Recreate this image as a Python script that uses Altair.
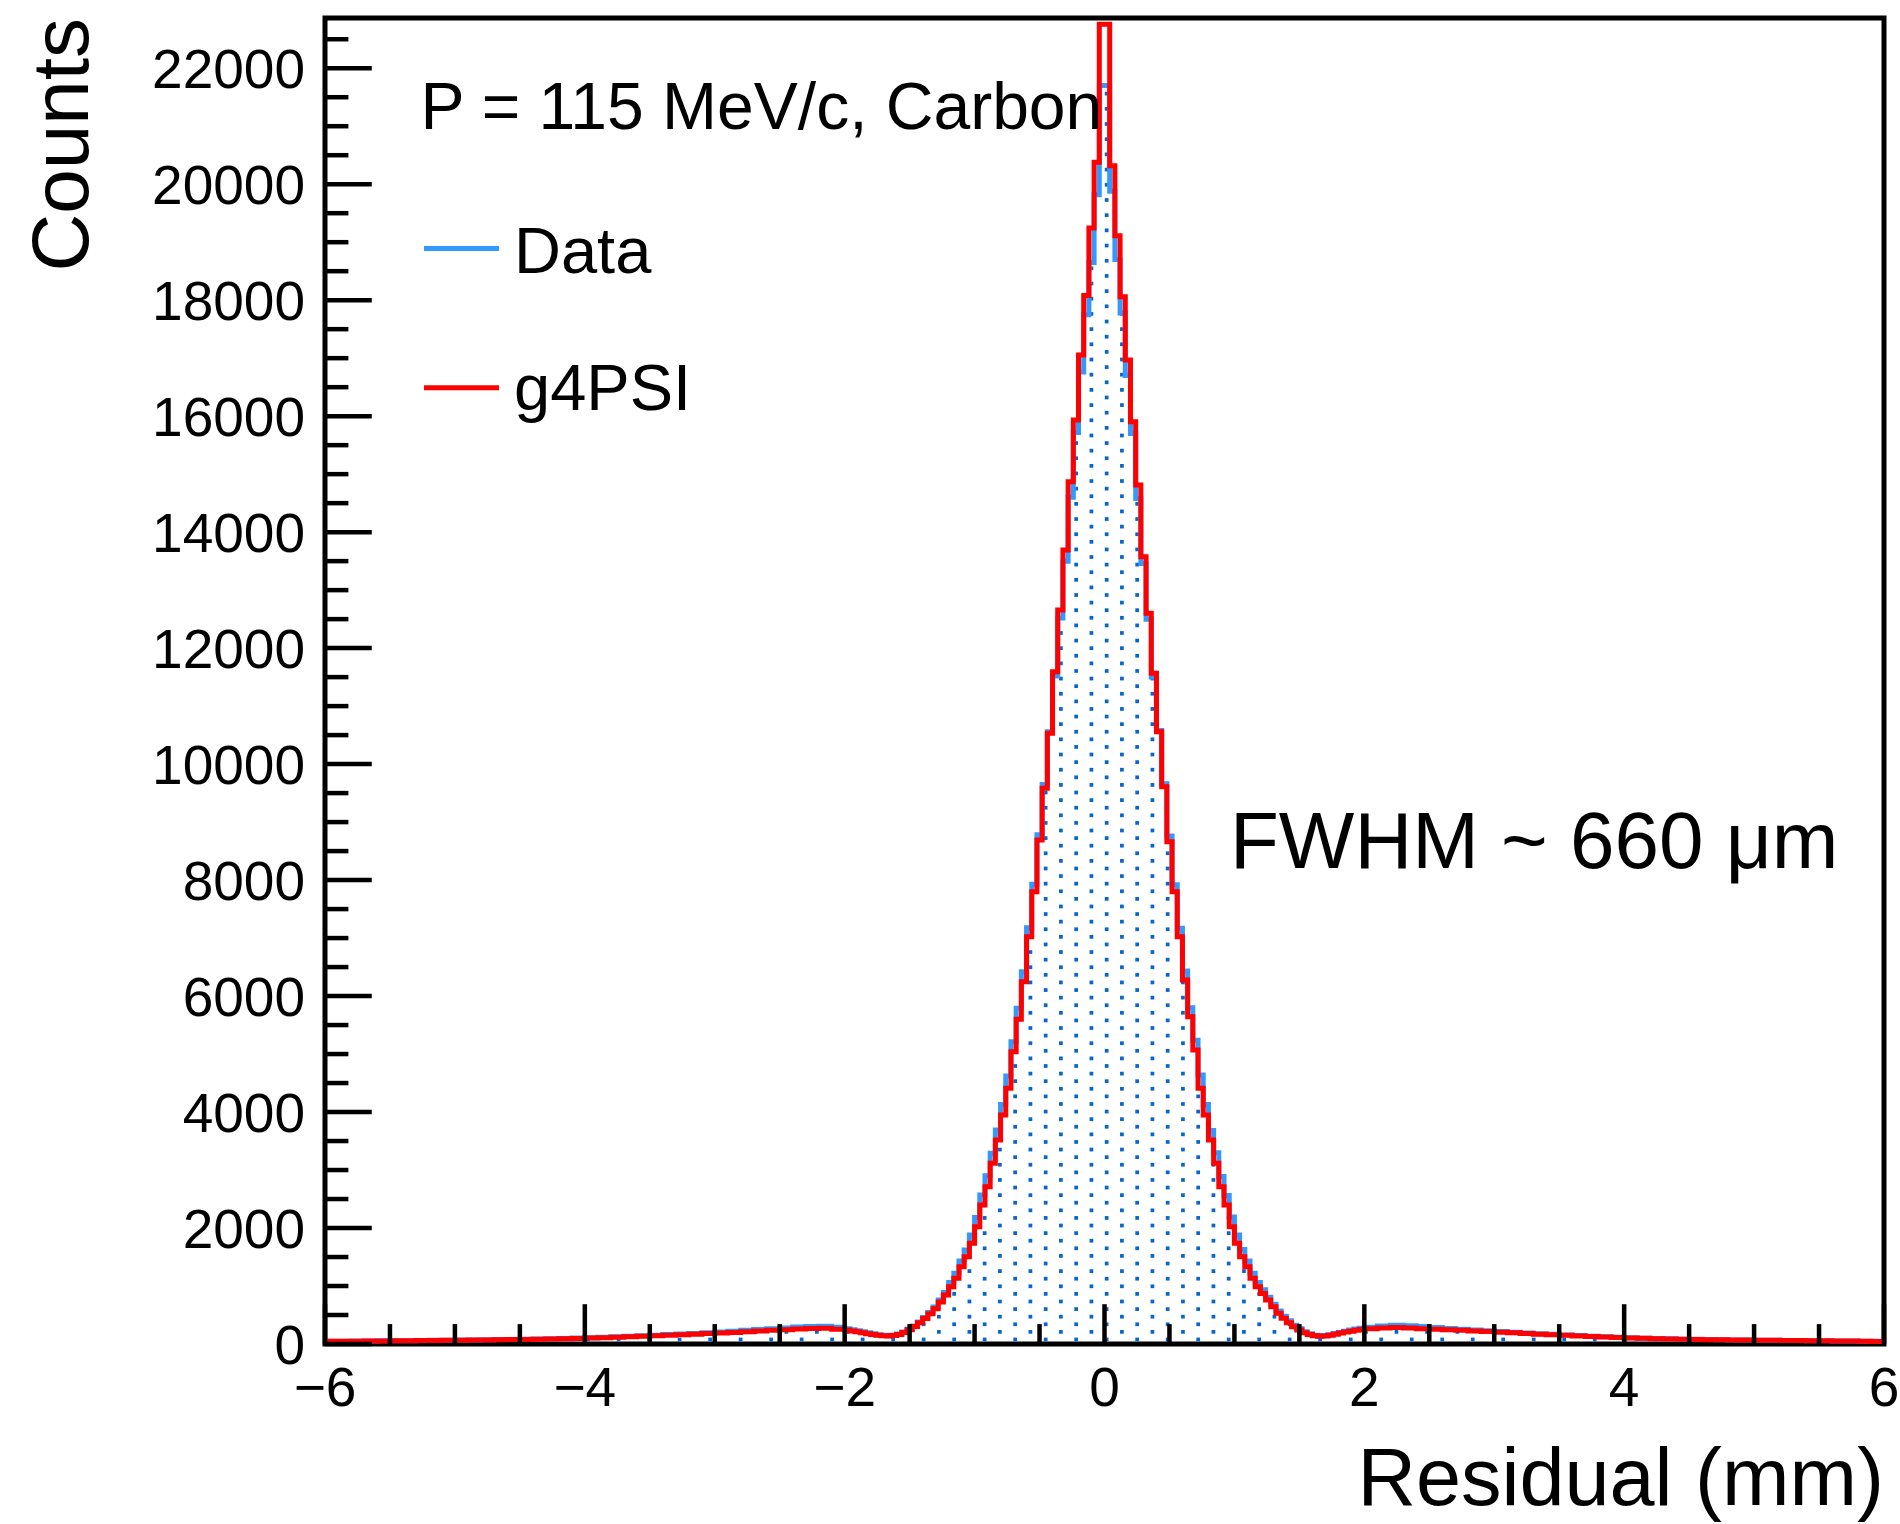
import numpy as np
import pandas as pd
import altair as alt

# ---------------- data ----------------
# bin edges: 0.1 mm bins in the tails, 0.04 mm bins in the core [-2, 2]
EDGES = np.concatenate([
    np.linspace(-6, -2, 41),
    np.linspace(-2, 2, 101)[1:],
    np.linspace(2, 6, 41)[1:],
]).round(4)

# g4PSI (red)
g4psi_tail_left = [46, 47, 49, 51, 53, 55, 57, 59, 62, 64,
                   66, 69, 71, 74, 76, 79, 83, 87, 92, 97,
                   102, 109, 117, 125, 134, 143, 152, 161, 170, 179,
                   189, 200, 212, 224, 236, 247, 257, 266, 270, 256]
g4psi_core_left = [240, 226, 210, 194, 178, 162, 150, 142, 137, 145,
                   165, 200, 245, 300, 365, 440, 520, 610, 725, 845,
                   988, 1133, 1333, 1506, 1736, 2023, 2397, 2713, 3116, 3518,
                   3949, 4409, 5040, 5600, 6248, 7024, 7800, 8691, 9582, 10531,
                   11594, 12657, 13692, 14870, 15934, 17055, 18080, 19245, 20378, 22760]
g4psi_core_right = [22760, 20320, 19111, 18060, 16969, 15905, 14813, 13577, 12600, 11566,
                    10559, 9611, 8662, 7800, 7024, 6277, 5644, 5070, 4409, 3949,
                    3518, 3116, 2713, 2397, 2023, 1736, 1506, 1333, 1133, 988,
                    873, 758, 644, 529, 443, 368, 299, 241, 195, 165,
                    142, 133, 140, 152, 170, 188, 205, 222, 236, 248]
g4psi_tail_right = [262, 278, 283, 276, 265, 254, 245, 235, 225, 214,
                    203, 192, 181, 170, 159, 149, 139, 129, 120, 111,
                    104, 98, 92, 86, 81, 77, 75, 72, 70, 67,
                    65, 63, 61, 59, 56, 54, 52, 50, 47, 45]

# Data (blue)
data_tail_left = [47, 48, 50, 52, 54, 56, 58, 61, 63, 66,
                  68, 70, 73, 76, 79, 82, 86, 91, 96, 102,
                  108, 116, 124, 133, 142, 152, 162, 172, 183, 194,
                  206, 220, 235, 250, 264, 278, 292, 303, 308, 290]
data_core_left = [262, 246, 228, 210, 192, 175, 160, 150, 144, 150,
                  172, 208, 255, 312, 380, 458, 545, 640, 760, 890,
                  1060, 1220, 1430, 1620, 1880, 2180, 2570, 2900, 3290, 3690,
                  4130, 4620, 5210, 5790, 6420, 7180, 7930, 8780, 9650, 10560,
                  11520, 12520, 13500, 14600, 15720, 16760, 17750, 18650, 19820, 21700]
data_core_right = [21700, 19880, 18700, 17780, 16700, 15700, 14580, 13460, 12500, 11500,
                   10580, 9660, 8760, 7920, 7170, 6430, 5800, 5240, 4640, 4130,
                   3680, 3300, 2890, 2560, 2190, 1880, 1630, 1430, 1220, 1060,
                   935, 805, 685, 570, 480, 400, 325, 262, 210, 176,
                   150, 140, 145, 160, 180, 200, 220, 240, 258, 272]
data_tail_right = [290, 312, 322, 315, 300, 285, 268, 255, 242, 228,
                   214, 202, 190, 178, 166, 155, 145, 135, 125, 116,
                   108, 101, 95, 89, 84, 80, 77, 74, 71, 69,
                   66, 64, 62, 60, 57, 55, 53, 51, 48, 46]

G4PSI = g4psi_tail_left + g4psi_core_left + g4psi_core_right + g4psi_tail_right
DATA = data_tail_left + data_core_left + data_core_right + data_tail_right

SERIES = ["Data", "g4PSI"]
X_MAJOR = [-6, -4, -2, 0, 2, 4, 6]
X_LABELS = ["\u22126", "\u22124", "\u22122", "0", "2", "4", "6"]
X_MINOR = [-5.5, -5, -4.5, -3.5, -3, -2.5, -1.5, -1, -0.5,
           0.5, 1, 1.5, 2.5, 3, 3.5, 4.5, 5, 5.5]
Y_MAJOR = [0, 2000, 4000, 6000, 8000, 10000, 12000, 14000, 16000, 18000, 20000, 22000]
Y_LABELS = ["0", "2000", "4000", "6000", "8000", "10000", "12000",
            "14000", "16000", "18000", "20000", "22000"]
Y_MINOR = [v for v in range(500, 22501, 500) if v % 2000 != 0]
LABEL_TEXT = "P = 115 MeV/c, Carbon"
FWHM_TEXT = "FWHM ~ 660 μm"
X_TITLE = "Residual (mm)"
Y_TITLE = "Counts"

# ---------------- layout / style ----------------
W, H = 1559, 1326
XMIN, XMAX = -6, 6
YMAX = 22866
FONT = "Liberation Sans"
BLUE_LINE = "#3399ff"
BLUE_DOT = "#0a66cc"
RED = "#ff0000"
LW = 5

xscale = alt.Scale(domain=[XMIN, XMAX], nice=False, zero=False)
yscale = alt.Scale(domain=[0, YMAX], nice=False, zero=True)


def step_frame(vals):
    ys = list(vals) + [vals[-1]]
    return pd.DataFrame({"x": EDGES, "y": ys, "o": range(len(EDGES))})


# dotted fill pattern of the Data histogram (texture clipped by the data)
DOT_DX, DOT_DY, DOT_X0, DOT_Y0 = 0.2348, 131.0, 0.0167, 78.0
dots = []
k = 0
while DOT_Y0 + k * DOT_DY < YMAX:
    yv = DOT_Y0 + k * DOT_DY
    x0 = DOT_X0 + (DOT_DX / 2 if k % 2 else 0.0)
    i_lo = int(np.ceil((XMIN - x0) / DOT_DX))
    i_hi = int(np.floor((XMAX - x0) / DOT_DX))
    for i in range(i_lo, i_hi + 1):
        xv = x0 + i * DOT_DX
        b = int(np.searchsorted(EDGES, xv, side="right") - 1)
        if 0 <= b < len(DATA) and yv < DATA[b]:
            dots.append((xv, yv))
    k += 1
dots_df = pd.DataFrame(dots, columns=["x", "y"])

X_ENC = dict(scale=xscale, axis=None)
Y_ENC = dict(scale=yscale, axis=None)

dot_layer = alt.Chart(dots_df).mark_square(
    size=14, color=BLUE_DOT, opacity=1, clip=True
).encode(x=alt.X("x:Q", **X_ENC), y=alt.Y("y:Q", **Y_ENC))

blue_line = alt.Chart(step_frame(DATA)).mark_line(
    interpolate="step-after", color=BLUE_LINE, strokeWidth=LW, clip=True
).encode(x=alt.X("x:Q", **X_ENC), y=alt.Y("y:Q", **Y_ENC), order="o:Q")

red_line = alt.Chart(step_frame(G4PSI)).mark_line(
    interpolate="step-after", color=RED, strokeWidth=LW, clip=True
).encode(x=alt.X("x:Q", **X_ENC), y=alt.Y("y:Q", **Y_ENC), order="o:Q")


def xticks(vals, length):
    return alt.Chart(pd.DataFrame({"x": vals})).mark_rule(
        color="black", strokeWidth=4.5
    ).encode(x=alt.X("x:Q", **X_ENC), y=alt.value(H), y2=alt.value(H - length))


def yticks(vals, length):
    return alt.Chart(pd.DataFrame({"y": vals})).mark_rule(
        color="black", strokeWidth=4.5
    ).encode(y=alt.Y("y:Q", **Y_ENC), x=alt.value(0), x2=alt.value(length))


x_labels = alt.Chart(pd.DataFrame({"x": X_MAJOR, "t": X_LABELS})).mark_text(
    align="center", baseline="top", font=FONT, fontSize=55, color="black"
).encode(x=alt.X("x:Q", **X_ENC), y=alt.value(H + 19), text="t:N")

y_labels = alt.Chart(pd.DataFrame({"y": Y_MAJOR, "t": Y_LABELS})).mark_text(
    align="right", baseline="middle", font=FONT, fontSize=55, color="black", dy=3
).encode(y=alt.Y("y:Q", **Y_ENC), x=alt.value(-20), text="t:N")


def text_layer(txt, x, y, size, align="left", angle=0):
    return alt.Chart(pd.DataFrame({"t": [txt]})).mark_text(
        align=align, baseline="alphabetic", font=FONT, fontSize=size,
        color="black", angle=angle
    ).encode(x=alt.value(x), y=alt.value(y), text="t:N")


def legend_line(color, y):
    return alt.Chart(pd.DataFrame({"k": [0]})).mark_rule(
        color=color, strokeWidth=LW
    ).encode(x=alt.value(99), x2=alt.value(174), y=alt.value(y))


chart = alt.layer(
    dot_layer,
    blue_line,
    red_line,
    xticks(X_MAJOR, 39.8),
    xticks(X_MINOR, 19.9),
    yticks(Y_MAJOR, 46.8),
    yticks(Y_MINOR, 23.4),
    x_labels,
    y_labels,
    text_layer(X_TITLE, W, 1487, 81, align="right"),
    text_layer(Y_TITLE, -237, 0, 80, align="right", angle=270),
    text_layer(LABEL_TEXT, 95.5, 111, 66),
    legend_line(BLUE_LINE, 230.4),
    text_layer(SERIES[0], 189, 255, 65),
    legend_line(RED, 369.7),
    text_layer(SERIES[1], 189, 392, 65),
    text_layer(FWHM_TEXT, 905, 849.6, 80),
).properties(
    width=W, height=H,
    background="white",
    autosize=alt.AutoSizeParams(type="none"),
    padding={"left": 325, "top": 18, "right": 16, "bottom": 180},
).configure_view(
    stroke="black", strokeWidth=5
)

chart.save("out.html", embed_options={"renderer": "svg", "actions": False})
